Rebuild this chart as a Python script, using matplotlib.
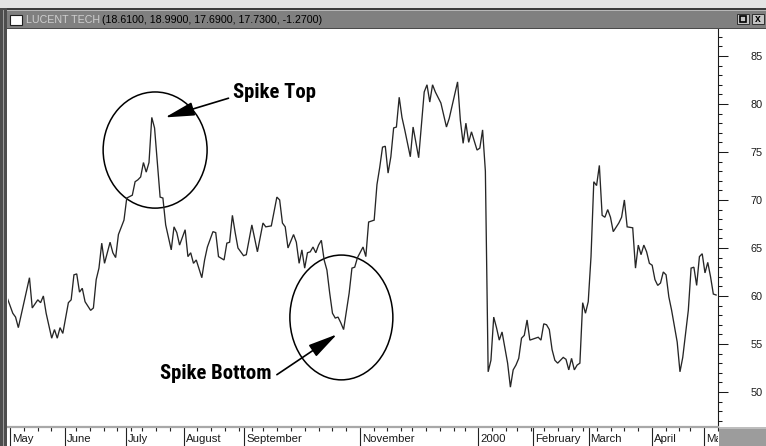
import matplotlib
matplotlib.use('Agg')
import matplotlib.pyplot as plt
import matplotlib.transforms as mtransforms
from matplotlib.patches import Rectangle, Ellipse
from matplotlib import font_manager as fm
import numpy as np
import pandas as pd

# ---------------- data ----------------
title_name = "LUCENT TECH"
title_values = "(18.6100, 18.9900, 17.6900, 17.7300, -1.2700)"

# trading-session number (0 = 1999-04-30) and closing price
session = [0, 2, 3, 4, 8, 9, 11, 12, 13, 14, 16, 17, 18, 19, 20, 22, 23, 24, 25, 26,
           27, 28, 30, 31, 32, 33, 34, 35, 37, 38, 39, 40, 42, 43, 45, 46, 47, 48, 49, 50,
           51, 52, 53, 55, 56, 57, 59, 60, 61, 62, 64, 65, 66, 67, 68, 70, 71, 72, 74, 75,
           76, 78, 79, 80, 81, 82, 83, 85, 86, 88, 90, 92, 93, 95, 97, 98, 99, 100, 101, 103,
           104, 105, 106, 107, 108, 109, 110, 111, 112, 113, 114, 115, 116, 117, 118, 119, 120, 121, 123, 124,
           125, 126, 128, 129, 130, 132, 133, 134, 135, 136, 137, 138, 139, 140, 141, 142, 143, 145, 146, 147,
           148, 150, 151, 152, 153, 154, 156, 158, 159, 162, 163, 164, 165, 166, 167, 169, 170, 171, 172, 173,
           174, 175, 176, 177, 178, 180, 181, 182, 183, 184, 185, 186, 187, 188, 190, 191, 192, 193, 194, 195,
           196, 197, 198, 200, 201, 202, 203, 204, 205, 206, 207, 208, 209, 210, 211, 212, 213, 214, 215, 216,
           217, 218, 220, 221, 222, 223, 225, 226, 227, 228, 229, 230, 231, 232, 233, 234, 235, 236, 237, 238,
           239, 241, 242, 243, 245, 246, 247, 248, 249, 250, 251, 252, 253, 254, 255]
close = [59.8, 58.2, 57.8, 56.7, 61.9, 58.75, 59.6, 59.3, 60.0, 58.2, 55.6, 56.5, 55.6, 56.7, 56.1, 59.3, 59.6, 62.2, 62.3, 60.4,
         60.8, 59.4, 58.5, 58.75, 61.7, 62.9, 65.5, 63.4, 65.6, 64.5, 64.0, 66.4, 67.9, 70.2, 70.5, 71.9, 72.1, 72.4, 73.9, 72.9,
         73.9, 78.6, 77.5, 70.3, 70.2, 67.4, 64.8, 67.2, 66.6, 65.3, 66.9, 64.1, 64.5, 63.4, 63.75, 61.9, 63.75, 65.1, 66.7, 66.6,
         64.1, 63.75, 65.5, 65.6, 68.4, 66.6, 65.0, 64.2, 64.3, 67.4, 64.6, 67.6, 67.2, 67.3, 70.3, 70.0, 67.6, 67.2, 65.0, 66.4,
         65.6, 63.4, 64.8, 62.9, 64.5, 64.6, 65.1, 64.5, 65.3, 65.8, 63.75, 62.7, 60.3, 58.2, 57.7, 57.8, 57.2, 56.5, 60.3, 62.9,
         63.0, 64.0, 65.1, 64.1, 67.7, 67.9, 71.6, 73.4, 75.5, 75.6, 72.8, 74.5, 77.5, 77.6, 80.7, 78.6, 77.3, 74.5, 77.6, 76.0,
         74.4, 81.25, 82.0, 80.2, 82.0, 81.25, 80.1, 77.6, 78.5, 82.3, 78.3, 75.9, 78.0, 76.0, 77.1, 75.2, 75.4, 77.3, 73.0, 52.1,
         53.3, 57.8, 56.7, 55.4, 56.25, 53.0, 50.5, 52.3, 52.8, 53.5, 55.6, 55.9, 57.5, 55.4, 55.6, 55.7, 55.4, 57.1, 57.0, 56.5,
         54.4, 53.3, 53.0, 53.6, 53.4, 52.3, 53.5, 52.3, 52.8, 53.0, 59.3, 58.2, 59.4, 64.1, 71.9, 71.5, 73.6, 68.4, 68.2, 69.0,
         68.2, 66.7, 67.6, 68.2, 70.0, 67.2, 67.1, 62.9, 65.3, 64.3, 65.3, 64.6, 63.4, 63.2, 61.7, 61.1, 61.35, 62.5, 62.2, 59.9,
         58.5, 55.2, 52.1, 53.6, 58.5, 62.9, 63.0, 61.1, 64.1, 64.4, 62.4, 63.5, 62.0, 60.2, 60.1]

holidays = ['1999-05-31', '1999-07-05', '1999-09-06', '1999-11-25', '1999-12-24',
            '2000-01-17', '2000-02-21', '2000-04-21']
month_keys = ['1999-05', '1999-06', '1999-07', '1999-08', '1999-09', '1999-11',
              '2000-01', '2000-02', '2000-03', '2000-04', '2000-05']
month_labels = ['May', 'June', 'July', 'August', 'September', 'November',
                '2000', 'February', 'March', 'April', 'May']
price_ticks = [50, 55, 60, 65, 70, 75, 80, 85]

annot_top = "Spike Top"
annot_bottom = "Spike Bottom"

# ---------------- calendar ----------------
calendar = pd.bdate_range('1999-04-30', '2000-05-12')
calendar = calendar[~calendar.isin(pd.to_datetime(holidays))]
cal_months = calendar.to_period('M')
month_pos = [int(np.argmax(cal_months == pd.Period(k, 'M'))) for k in month_keys]
weeks = calendar.to_period('W')
week_pos = [i for i in range(1, len(calendar)) if weeks[i] != weeks[i - 1]]


# ---------------- condensed bold font lookup ----------------
def pick_condensed_bold():
    name_pref = ['liberation sans narrow', 'roboto condensed', 'noto sans',
                 'dejavu sans', 'open sans']
    best = None
    for f in fm.fontManager.ttflist:
        fn = f.fname.lower().replace('-', '').replace('_', '')
        nm = f.name.lower()
        stretch = str(f.stretch).lower()
        cond = ('narrow' in nm or 'condensed' in nm or 'narrow' in fn or 'condensed' in fn
                or stretch in ('condensed', 'semi-condensed', 'extra-condensed'))
        if not cond:
            continue
        w = f.weight
        if isinstance(w, str):
            w = {'bold': 700, 'normal': 400, 'regular': 400, 'book': 400}.get(w, 400)
        isbold = 'bold' in fn or w >= 700
        if not isbold:
            continue
        if 'italic' in fn or 'oblique' in fn or f.style != 'normal':
            continue
        penalty = 0
        for bad in ('semibold', 'extrabold', 'ultrabold', 'black', 'light', 'medium'):
            if bad in fn:
                penalty += 5
        for bad in ('semicondensed', 'extracondensed', 'ultracondensed'):
            if bad in fn:
                penalty += 2
        rank = len(name_pref)
        for i, p in enumerate(name_pref):
            if nm.startswith(p):
                rank = i
                break
        key = (penalty, rank)
        if best is None or key < best[0]:
            best = (key, f.fname)
    if best is not None:
        return fm.FontProperties(fname=best[1])
    return fm.FontProperties(family='DejaVu Sans', weight='bold')


bold_fp = pick_condensed_bold()

# ---------------- figure ----------------
W, H = 766, 446
DPI = 100
fig = plt.figure(figsize=(W / DPI, H / DPI), dpi=DPI, facecolor='white')

NUM_FONT = ['Liberation Sans', 'DejaVu Sans']


def frect(x0, y0, x1, y1, **kw):
    """rectangle in figure pixel space (y from top)"""
    r = Rectangle((x0 / W, 1 - y1 / H), (x1 - x0) / W, (y1 - y0) / H,
                  transform=fig.transFigure, **kw)
    fig.add_artist(r)
    return r


# window chrome
frect(0, 0, W, 8, facecolor='#e4e4e4', edgecolor='none')
frect(0, 8, W, 10, facecolor='#3c3c3c', edgecolor='none')
frect(0, 10, W, 11, facecolor='#b8b8b8', edgecolor='none')
frect(7, 11, W, 28, facecolor='#808080', edgecolor='none')
frect(7, 28, W, 29, facecolor='#4a4a4a', edgecolor='none')
frect(0, 8, 7, H, facecolor='#4d4d4d', edgecolor='none')
frect(3, 10, 4, H, facecolor='#9a9a9a', edgecolor='none')
# icon
frect(10, 15, 22, 25, facecolor='white', edgecolor='#202020', linewidth=0.8)
# buttons
frect(737, 14, 749, 24, facecolor='#c4c4c4', edgecolor='#303030', linewidth=0.7)
frect(740, 16, 746, 22, facecolor='none', edgecolor='black', linewidth=1.2)
frect(752, 14, 764, 24, facecolor='#c4c4c4', edgecolor='#303030', linewidth=0.7)
fig.text(758 / W, 1 - 19.5 / H, 'x', color='black', fontsize=7.5, fontweight='bold',
         ha='center', va='center', family=NUM_FONT)
# bottom-right corner box
frect(719, 427, W, H, facecolor='#9c9c9c', edgecolor='none')
frect(719, 427, W, 429, facecolor='#bdbdbd', edgecolor='none')

# title texts
fig.text(26 / W, 1 - 20 / H, title_name, color='#cfcfcf', fontsize=7.7,
         ha='left', va='center', family=NUM_FONT)
fig.text(102 / W, 1 - 20 / H, title_values, color='black', fontsize=7.7,
         ha='left', va='center', family=NUM_FONT)

# ---------------- main price axes ----------------
x_lo, x_hi = 0.28, 255.68
ax = fig.add_axes([8 / W, (H - 427) / H, 710 / W, (427 - 29) / H])
ax.set_facecolor('white')
ax.plot(session, close, color='#262626', linewidth=0.95, solid_joinstyle='miter')
ax.set_xlim(x_lo, x_hi)
ax.set_ylim(46.35, 87.81)
for s in ['left', 'top', 'bottom']:
    ax.spines[s].set_visible(False)
ax.spines['right'].set_color('#1a1a1a')
ax.spines['right'].set_linewidth(0.8)
ax.set_xticks([])
ax.yaxis.tick_right()
ax.set_yticks(price_ticks)
ax.set_yticks(np.arange(47, 88, 1), minor=True)
ax.tick_params(axis='y', which='major', length=7.2, width=0.75, pad=16.0,
               labelsize=7.8, colors='#1a1a1a', direction='out')
ax.tick_params(axis='y', which='minor', length=3.0, width=0.75, colors='#1a1a1a',
               direction='out')
for lab in ax.get_yticklabels():
    lab.set_family(NUM_FONT)

# annotations
ax.add_patch(Ellipse((53.2, 75.2), 37.4, 12.1, fill=False, edgecolor='black', linewidth=1.1))
ax.add_patch(Ellipse((120.2, 57.76), 37.05, 13.0, fill=False, edgecolor='black', linewidth=1.1))
arrow_style = dict(arrowstyle='-|>,head_length=1.8,head_width=0.42', color='black',
                   linewidth=1.2, shrinkA=0, shrinkB=0, mutation_scale=10)
ax.annotate('', xy=(56.8, 78.6), xytext=(79.6, 80.6), arrowprops=arrow_style)
ax.annotate('', xy=(118.6, 56.0), xytext=(97.0, 51.8), arrowprops=arrow_style)
t_top = ax.text(81.3, 81.15, annot_top, fontproperties=bold_fp, fontsize=15.2,
                ha='left', va='center', color='black')
t_bot = ax.text(55.0, 51.93, annot_bottom, fontproperties=bold_fp, fontsize=15.2,
                ha='left', va='center', color='black')

# fit the annotation font size to the width seen in the reference (~112 px for "Spike Bottom")
renderer = fig.canvas.get_renderer()
w_now = t_bot.get_window_extent(renderer).width
if w_now > 0:
    size = float(np.clip(15.2 * 112.0 / w_now, 9.0, 16.0))
    t_top.set_fontsize(size)
    t_bot.set_fontsize(size)

# ---------------- date strip ----------------
axd = fig.add_axes([8 / W, 0, 710 / W, (H - 427) / H])
axd.set_facecolor('white')
axd.set_xlim(x_lo, x_hi)
axd.set_ylim(0, 1)
for s in ['left', 'right', 'bottom']:
    axd.spines[s].set_visible(False)
axd.spines['top'].set_color('#a8a8a8')
axd.spines['top'].set_linewidth(1.6)
axd.set_yticks([])
axd.set_xticks(month_pos)
axd.set_xticks(week_pos, minor=True)
axd.tick_params(axis='x', which='major', direction='in', length=14, width=0.8,
                color='#222222', bottom=True, top=False, labelbottom=False)
axd.tick_params(axis='x', which='minor', direction='in', length=3.0, width=0.8,
                color='#222222', bottom=False, top=True, labelbottom=False)
offset = mtransforms.ScaledTranslation(2 / DPI, 0, fig.dpi_scale_trans)
for p, lab in zip(month_pos, month_labels):
    axd.text(p, 0.36, lab, transform=axd.get_xaxis_transform() + offset,
             ha='left', va='center', fontsize=8.2, color='#1a1a1a',
             family=NUM_FONT, clip_on=True)

fig.savefig('out.png', dpi=DPI, facecolor='white')
